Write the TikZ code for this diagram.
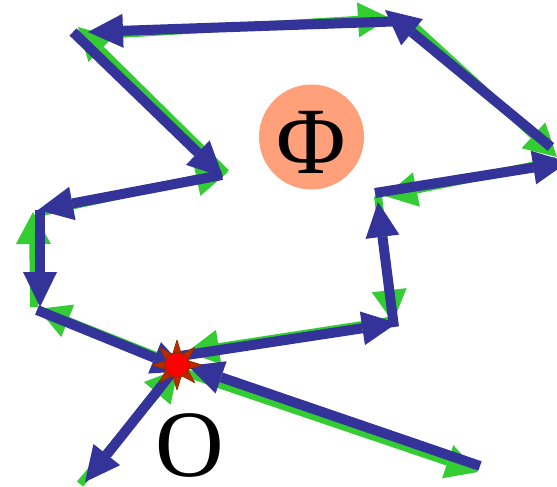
\documentclass[tikz,border=0pt]{standalone}
\usepackage{fontspec}
\setmainfont{Liberation Serif}
\usetikzlibrary{arrows.meta,calc}
\definecolor{pathblue}{RGB}{51,51,153}
\definecolor{pathgreen}{RGB}{51,204,51}
\definecolor{phisalmon}{RGB}{255,160,122}
\definecolor{raycol}{RGB}{190,40,0}
\definecolor{rayedge}{RGB}{140,50,0}
\begin{document}
\begin{tikzpicture}[x=1pt,y=-1pt,
  bluearrow/.style={draw=pathblue, line width=10pt,
    -{Triangle[length=35pt,width=34pt,line width=0pt,fill=pathblue]}},
  greenarrow/.style={draw=pathgreen, line width=8pt,
    -{Triangle[length=32pt,width=35pt,line width=0pt,fill=pathgreen]}},
  bigletter/.style={font=\fontsize{95}{95}\selectfont, inner sep=0pt, anchor=base, text depth=0pt},
  ray/.style={fill=raycol, draw=rayedge, line width=0.8pt, line join=round}]
\useasboundingbox (0,0) rectangle (557,487);
\clip (0,0) rectangle (557,487);
% circle with Phi
\node[circle, fill=phisalmon, minimum size=105pt, inner sep=0pt] (phicirc) at (311.5,137) {};
\node[bigletter] (phi) at (311.5,173) {Φ};
\node[bigletter] (olabel) at (189.5,476) {O};
% green (reverse) coordinates
\coordinate (g1s) at (183,372);  \coordinate (g1e) at (478,472);
\coordinate (g2s) at (395,320);  \coordinate (g2e) at (187,352);
\coordinate (g3s) at (378,196);  \coordinate (g3e) at (393,322);
\coordinate (g4s) at (556,161);  \coordinate (g4e) at (385,196);
\coordinate (g5s) at (412,24);   \coordinate (g5e) at (557,157);
\coordinate (g6s) at (84,36);    \coordinate (g6e) at (390,18);
\coordinate (g7s) at (226,173);  \coordinate (g7e) at (78,27);
\coordinate (g8s) at (42,212);   \coordinate (g8e) at (228,172);
\coordinate (g9s) at (34,307);   \coordinate (g9e) at (33,212);
\coordinate (g10s) at (174,363); \coordinate (g10e) at (38,309);
\coordinate (g11s) at (80,484);  \coordinate (g11e) at (178,369);
\foreach \i in {1,...,11} {\draw[greenarrow] (g\i s) -- (g\i e);}
% blue (forward) coordinates
\coordinate (b1s) at (480,466);  \coordinate (b1e) at (188,366);
\coordinate (b2s) at (180,356);  \coordinate (b2e) at (397,323);
\coordinate (b3s) at (394,327);  \coordinate (b3e) at (378,202);
\coordinate (b4s) at (375,193);  \coordinate (b4e) at (568,162);
\coordinate (b5s) at (551,147);  \coordinate (b5e) at (385,10);
\coordinate (b6s) at (407,21);   \coordinate (b6e) at (88,32);
\coordinate (b7s) at (73,32);    \coordinate (b7e) at (223,177);
\coordinate (b8s) at (222,175);  \coordinate (b8e) at (38,210);
\coordinate (b9s) at (40,210);   \coordinate (b9e) at (40,307);
\coordinate (b10s) at (37,310);  \coordinate (b10e) at (187,371);
\coordinate (b11s) at (178,365); \coordinate (b11e) at (85,482);
\foreach \i in {1,...,11} {\draw[bluearrow] (b\i s) -- (b\i e);}
% origin star
\coordinate (O) at (177,365);
\foreach \a in {0,45,...,315} {
  \filldraw[ray] ($(O)+(\a:25pt)$) -- ($(O)+(\a+17:13pt)$) -- ($(O)+(\a-17:13pt)$) -- cycle;
}
\node[circle, fill=red, draw=rayedge, line width=1pt, minimum size=25pt, inner sep=0pt] (sun) at (O) {};
\end{tikzpicture}
\end{document}
